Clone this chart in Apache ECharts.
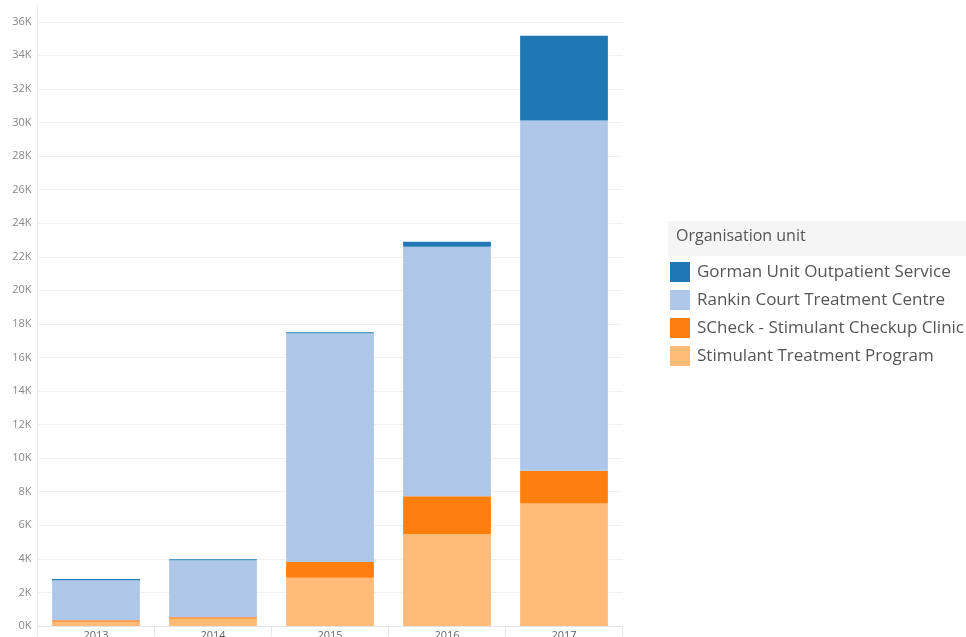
<!DOCTYPE html>
<html>
<head>
<meta charset="utf-8">
<script src="https://cdn.jsdelivr.net/npm/echarts@6/dist/echarts.min.js"></script>
<style>
html,body{margin:0;padding:0;background:#fff;overflow:hidden;}
#chart{width:966px;height:637px;}
</style>
</head>
<body>
<div id="chart"></div>
<script>
const years = ['2013', '2014', '2015', '2016', '2017'];
const stimulantTreatment = [256, 435, 2875, 5476, 7304];
const scheckClinic = [83, 83, 935, 2262, 1940];
const rankinCourt = [2381, 3393, 13630, 14863, 20875];
const gormanUnit = [78, 60, 60, 298, 5042];
const legendTitle = 'Organisation unit';
const seriesNames = ['Gorman Unit Outpatient Service', 'Rankin Court Treatment Centre', 'SCheck - Stimulant Checkup Clinic', 'Stimulant Treatment Program'];

const chart = echarts.init(document.getElementById('chart'), null, {renderer: 'canvas'});
const font = '"Open Sans", Lato, sans-serif';

function bar(name, data, color) {
  return {
    name: name,
    type: 'bar',
    stack: 'total',
    data: data,
    barCategoryGap: '25%',
    itemStyle: {color: color},
    emphasis: {disabled: true}
  };
}

chart.setOption({
  animation: false,
  textStyle: {fontFamily: font},
  grid: {left: 37.5, right: 343.5, top: 5, bottom: 11, containLabel: false, outerBoundsMode: 'none'},
  xAxis: {
    type: 'category',
    data: years,
    axisLine: {show: true, lineStyle: {color: '#e6e6e6'}},
    axisTick: {show: true, length: 10, lineStyle: {color: '#e6e6e6'}},
    axisLabel: {margin: 4, fontSize: 11, color: '#666', fontFamily: font}
  },
  yAxis: {
    type: 'value',
    min: 0,
    max: 37000,
    interval: 2000,
    axisLine: {show: true, lineStyle: {color: '#eeeeee'}},
    axisTick: {show: false},
    axisLabel: {
      showMaxLabel: false,
      margin: 6,
      fontSize: 11,
      color: '#888',
      fontFamily: font,
      formatter: v => (v / 1000) + 'K'
    },
    splitLine: {show: true, showMaxLine: false, lineStyle: {color: '#f0f0f0'}}
  },
  legend: {
    orient: 'vertical',
    left: 670,
    top: 262,
    itemWidth: 20,
    itemHeight: 20,
    itemGap: 8,
    padding: 0,
    icon: 'rect',
    selectedMode: false,
    data: seriesNames,
    textStyle: {fontSize: 17, color: '#555', fontFamily: font, padding: [0, 0, 0, 2]}
  },
  graphic: [
    {type: 'rect', left: 668, top: 221, shape: {width: 298, height: 35}, style: {fill: '#f5f5f5'}},
    {type: 'text', left: 676, top: 228, style: {text: legendTitle, fontSize: 16, fill: '#555', fontFamily: font}}
  ],
  series: [
    bar(seriesNames[3], stimulantTreatment, '#ffbb78'),
    bar(seriesNames[2], scheckClinic, '#ff7f0e'),
    bar(seriesNames[1], rankinCourt, '#aec7e8'),
    bar(seriesNames[0], gormanUnit, '#1f77b4')
  ]
});
</script>
</body>
</html>
